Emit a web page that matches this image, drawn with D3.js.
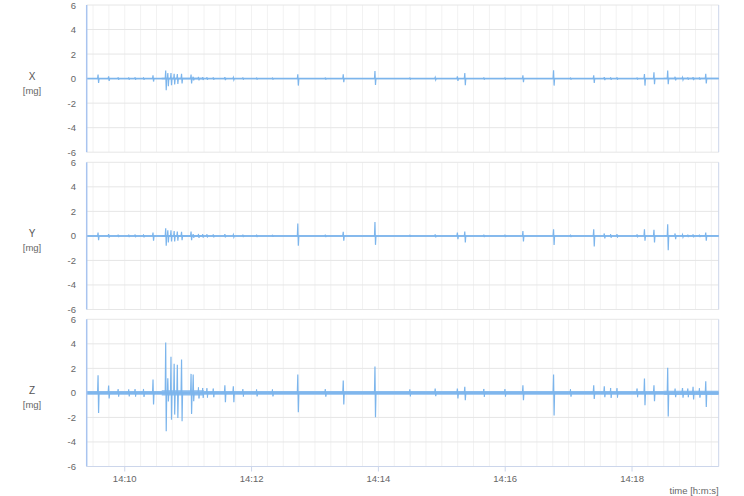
<!DOCTYPE html>
<html>
<head>
<meta charset="utf-8">
<script src="https://cdn.jsdelivr.net/npm/d3@7"></script>
<style>
html,body{margin:0;padding:0;background:#fff;}
svg{display:block;font-family:"Lucida Grande","Lucida Sans Unicode","Liberation Sans",Arial,sans-serif;}
</style>
</head>
<body>
<svg id="chart" width="744" height="496"></svg>
<script>
// ---- data ----
const channels = ["X", "Y", "Z"];
const unitLabel = "[mg]";
const timeDomain = ["14:09:24", "14:19:22"];
const timeTicks = ["14:10", "14:12", "14:14", "14:16", "14:18"];
const yTicks = [-6, -4, -2, 0, 2, 4, 6];
const xAxisTitle = "time [h:m:s]";

// shared vibration events
const eventTimes = ["14:09:35","14:09:45","14:10:27","14:10:39","14:10:41","14:10:44","14:10:47","14:10:50","14:10:54","14:11:03","14:11:05","14:11:35","14:11:43","14:12:44","14:13:27","14:13:57","14:14:54","14:15:15","14:15:22","14:16:17","14:16:46","14:17:24","14:17:34","14:18:12","14:18:21","14:18:34","14:18:41","14:18:48","14:18:58","14:19:10"];
const xMax = [0.33,0.19,0.27,0.65,0.46,0.46,0.40,0.38,0.40,0.33,0.15,0.12,0.10,0.35,0.35,0.62,0.10,0.19,0.46,0.27,0.68,0.27,0.12,0.38,0.51,0.65,0.15,0.10,0.12,0.40];
const xMin = [-0.35,-0.19,-0.24,-0.95,-0.62,-0.54,-0.48,-0.43,-0.40,-0.40,-0.15,-0.12,-0.10,-0.57,-0.30,-0.51,-0.10,-0.19,-0.54,-0.30,-0.57,-0.35,-0.12,-0.57,-0.46,-0.46,-0.15,-0.10,-0.12,-0.40];
const yMax = [0.27,0.14,0.27,0.62,0.46,0.46,0.40,0.35,0.33,0.35,0.15,0.15,0.10,1.00,0.33,1.14,0.12,0.27,0.35,0.40,0.54,0.54,0.20,0.54,0.49,0.95,0.20,0.10,0.12,0.27];
const yMin = [-0.35,-0.14,-0.40,-0.81,-0.54,-0.46,-0.46,-0.40,-0.35,-0.35,-0.15,-0.12,-0.10,-0.81,-0.40,-0.73,-0.12,-0.27,-0.54,-0.46,-0.73,-0.87,-0.20,-0.40,-0.54,-1.17,-0.27,-0.10,-0.12,-0.40];
const zMax = [1.44,0.60,1.10,4.10,1.20,2.94,2.37,2.30,2.72,1.55,1.50,0.63,0.54,1.50,1.00,2.15,0.35,0.35,0.49,0.63,1.50,0.63,0.54,1.17,0.63,2.04,0.35,0.40,0.49,0.95];
const zMin = [-1.63,-0.46,-0.95,-3.13,-0.70,-2.18,-1.77,-2.04,-2.31,-1.71,-0.68,-0.76,-0.76,-1.58,-0.95,-1.99,-0.27,-0.46,-0.60,-0.60,-1.85,-0.49,-0.35,-1.00,-0.68,-1.93,-0.35,-0.40,-0.54,-1.14];

// small bumps along the baseline (half-amplitudes)
const minorTimes = ["14:09:54","14:10:04","14:10:10","14:10:18","14:11:10","14:11:14","14:11:18","14:11:24","14:11:52","14:12:05","14:12:20","14:13:10","14:14:30","14:15:40","14:16:00","14:17:02","14:17:40","14:17:46","14:18:05","14:18:53","14:19:04"];
const xMinor = [0.10,0.09,0.10,0.10,0.14,0.12,0.11,0.10,0.09,0.08,0.08,0.08,0.08,0.09,0.08,0.08,0.10,0.10,0.08,0.09,0.09];
const yMinor = [0.10,0.10,0.11,0.12,0.16,0.14,0.13,0.12,0.10,0.10,0.09,0.10,0.09,0.10,0.10,0.10,0.15,0.14,0.12,0.10,0.10];
const zMinor = [0.30,0.28,0.30,0.32,0.45,0.40,0.38,0.35,0.30,0.28,0.28,0.30,0.28,0.32,0.30,0.30,0.40,0.38,0.35,0.35,0.38];

// baseline noise envelope (segment start times and half-amplitudes)
const noiseTimes = ["14:09:24","14:10:35","14:11:15","14:18:30","14:19:22"];
const xNoise = [0.05,0.07,0.05,0.06,0.06];
const yNoise = [0.06,0.08,0.06,0.07,0.07];
const zNoise = [0.15,0.22,0.15,0.18,0.18];

// ---- drawing ----
const parse = d3.timeParse("%H:%M:%S");
const parseHM = d3.timeParse("%H:%M");
const svg = d3.select("#chart");
const left = 86.7, right = 718.7;
const panelTops = [5, 162.3, 319.3];
const panelH = 147.2;
const color = "#7cb5ec";

const x = d3.scaleTime().domain(timeDomain.map(parse)).range([left, right]);

const series = {
  X: {max: xMax, min: xMin, noise: xNoise, minor: xMinor},
  Y: {max: yMax, min: yMin, noise: yNoise, minor: yMinor},
  Z: {max: zMax, min: zMin, noise: zNoise, minor: zMinor}
};

const minorGrid = d3.timeSecond.every(15).range(x.domain()[0], x.domain()[1]);

channels.forEach((ch, i) => {
  const top = panelTops[i];
  const y = d3.scaleLinear().domain([-6, 6]).range([top + panelH, top]);
  const g = svg.append("g");

  g.selectAll("line.vg").data(minorGrid).join("line")
    .attr("x1", d => x(d)).attr("x2", d => x(d))
    .attr("y1", top).attr("y2", top + panelH)
    .attr("stroke", "#f2f2f2").attr("stroke-width", 1);

  g.selectAll("line.hg").data(yTicks).join("line")
    .attr("x1", left).attr("x2", right)
    .attr("y1", d => y(d)).attr("y2", d => y(d))
    .attr("stroke", "#e6e6e6").attr("stroke-width", 1);

  g.selectAll("text.yt").data(yTicks).join("text")
    .attr("x", 76).attr("y", d => y(d) + 3.5)
    .attr("text-anchor", "end")
    .attr("font-size", 9.5).attr("fill", "#666")
    .text(d => d);

  g.append("text").attr("x", 32).attr("y", top + 75)
    .attr("text-anchor", "middle").attr("font-size", 10).attr("fill", "#555").text(ch);
  g.append("text").attr("x", 32).attr("y", top + 89)
    .attr("text-anchor", "middle").attr("font-size", 9.5).attr("fill", "#666").text(unitLabel);

  g.append("line").attr("x1", right).attr("x2", right).attr("y1", top).attr("y2", top + panelH)
    .attr("stroke", "#ccd6eb").attr("stroke-width", 1);

  const s = series[ch];
  const nd = noiseTimes.map((t, k) => ({t: parse(t), a: s.noise[k]}));
  const area = d3.area().curve(d3.curveStepAfter)
    .x(d => x(d.t)).y0(d => y(-d.a)).y1(d => y(d.a));
  g.append("path").datum(nd).attr("d", area).attr("fill", color).attr("fill-opacity", 0.9);
  g.append("path").datum(nd).attr("d", d3.line().curve(d3.curveStepAfter).x(d => x(d.t)).y(y(0)))
    .attr("fill", "none").attr("stroke", color).attr("stroke-width", 1.5);

  const line = d3.line().x(d => x(d[0])).y(d => y(d[1]));
  const drawEvent = (t, hi, lo, w) => {
    const tt = parse(t);
    const pts = [
      [d3.timeMillisecond.offset(tt, -700), 0],
      [d3.timeMillisecond.offset(tt, -250), hi],
      [d3.timeMillisecond.offset(tt, 250), lo],
      [d3.timeMillisecond.offset(tt, 700), 0]
    ];
    g.append("path").datum(pts).attr("d", line)
      .attr("fill", "none").attr("stroke", color).attr("stroke-width", w);
  };
  minorTimes.forEach((t, k) => drawEvent(t, s.minor[k], -s.minor[k], 1));
  eventTimes.forEach((t, k) => drawEvent(t, s.max[k], s.min[k], 1.2));

  g.append("line").attr("x1", left).attr("x2", left).attr("y1", top).attr("y2", top + panelH)
    .attr("stroke", "#a9c4ef").attr("stroke-width", 1.5);
});

const bottom = panelTops[2] + panelH;
svg.append("line").attr("x1", left).attr("x2", right).attr("y1", bottom).attr("y2", bottom)
  .attr("stroke", "#ccd6eb").attr("stroke-width", 1);
const tickDates = timeTicks.map(parseHM);
svg.selectAll("line.xt").data(tickDates).join("line")
  .attr("x1", d => x(d)).attr("x2", d => x(d))
  .attr("y1", bottom).attr("y2", bottom + 5)
  .attr("stroke", "#ccd6eb");
svg.selectAll("text.xt").data(timeTicks).join("text")
  .attr("x", (d, k) => x(tickDates[k])).attr("y", bottom + 15)
  .attr("text-anchor", "middle").attr("font-size", 9.5).attr("fill", "#666")
  .text(d => d);
svg.append("text").attr("x", right).attr("y", 494)
  .attr("text-anchor", "end").attr("font-size", 9.5).attr("fill", "#666").text(xAxisTitle);
</script>
</body>
</html>
